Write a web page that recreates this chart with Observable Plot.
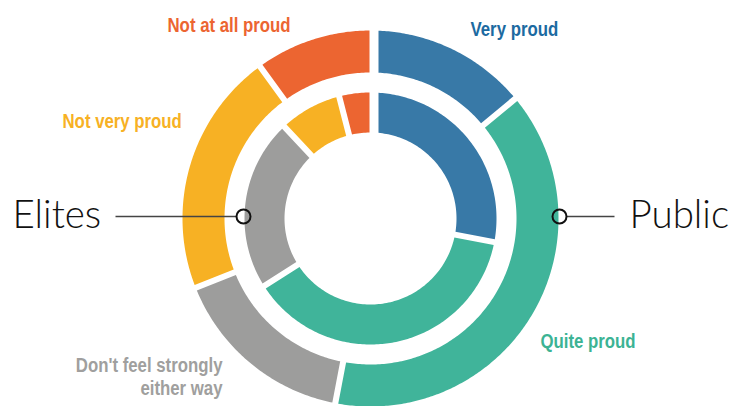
<!DOCTYPE html>
<html><head><meta charset="utf-8">
<script src="https://cdn.jsdelivr.net/npm/d3@7"></script>
<script src="https://cdn.jsdelivr.net/npm/@observablehq/plot@0.6"></script>
<style>body{margin:0;background:#fff;} svg{display:block}</style>
</head><body><div id="chart"></div>
<script>
// ---- data ----
const categories = ["Very proud", "Quite proud", "Don't feel strongly either way", "Not very proud", "Not at all proud"];
const publicValues = [14, 39, 16, 21, 10];
const eliteValues = [28, 38, 22, 8, 4];
const labelTexts = ["Very proud", "Quite proud", "Don't feel strongly\neither way", "Not very proud", "Not at all proud"];
const ringNames = ["Public", "Elites"];

// ---- styles / layout ----
const sliceColors = ["#3879a7", "#40b49a", "#9d9d9c", "#f7b124", "#ec6531"];
const labelColors = ["#1c6aa1", "#3cb394", "#a09f9e", "#f7b124", "#ec6531"];
const W = 733, H = 406, CX = 370, CY = 218;
const ringGeom = [{r0: 146, r1: 188}, {r0: 86, r1: 126}];
const GAP = 3, TOP_START_GAP = 8, TOP_END_GAP = 1;
const SQUEEZE = 0.8;
const labelPos = [
  {x: 100, y: 183, anchor: "start"},
  {x: 170, y: -129, anchor: "start"},
  {x: -148, y: -176, anchor: "end"},
  {x: -308, y: 91, anchor: "start"},
  {x: -203, y: 187, anchor: "start"}
];
const namePos = [
  {x: 259, y: -9, anchor: "start", mx: 189, lx1: 196, lx2: 244},
  {x: -358, y: -9, anchor: "start", mx: -127, lx1: -255, lx2: -134}
];

const rings = [
  {name: ringNames[0], values: publicValues, ...ringGeom[0]},
  {name: ringNames[1], values: eliteValues, ...ringGeom[1]}
];

function slicePoints(ring) {
  const total = d3.sum(ring.values);
  let acc = 0;
  const pts = [];
  ring.values.forEach((v, i) => {
    const a0 = acc / total * 2 * Math.PI; acc += v;
    const a1 = acc / total * 2 * Math.PI;
    const g0 = i === 0 ? TOP_START_GAP : GAP;
    const g1 = i === ring.values.length - 1 ? TOP_END_GAP : GAP;
    const key = ring.name + "-" + categories[i];
    const arc = (r, dir) => {
      const s = a0 + Math.asin(g0 / r), e = a1 - Math.asin(g1 / r);
      const n = Math.max(8, Math.ceil((e - s) * r / 2));
      for (let k = 0; k <= n; k++) {
        const t = dir > 0 ? k / n : 1 - k / n;
        const a = s + (e - s) * t;
        pts.push({key, color: sliceColors[i], x: r * Math.sin(a), y: r * Math.cos(a)});
      }
    };
    arc(ring.r1, 1);
    arc(ring.r0, -1);
  });
  return pts;
}
const slicePts = rings.flatMap(slicePoints);

const labels = labelTexts.map((t, i) => ({text: t, color: labelColors[i], ...labelPos[i]}));
const names = ringNames.map((n, i) => ({text: n, ...namePos[i]}));

const labelFont = "'Liberation Sans', Arial, sans-serif";
const nameFont = "'Segoe UI Light', Lato, 'Open Sans', sans-serif";

const chart = Plot.plot({
  width: W, height: H, margin: 0,
  x: {domain: [-CX, W - CX], axis: null},
  y: {domain: [-(H - CY), CY], axis: null},
  color: {type: "identity"},
  style: {background: "#fff"},
  marks: [
    Plot.line(slicePts, {x: "x", y: "y", z: "key", fill: "color", stroke: "none", curve: "linear"}),
    Plot.link(names, {x1: "lx1", x2: "lx2", y1: 2, y2: 2, stroke: "#444", strokeWidth: 1.3}),
    Plot.dot(names, {x: "mx", y: 2, r: 7, stroke: "#111", strokeWidth: 2, fill: "none"}),
    Plot.text(names, {x: "x", y: "y", text: "text", textAnchor: "start", lineAnchor: "bottom",
      fontSize: 38.5, fontWeight: 300, fontFamily: nameFont, fill: "#111"}),
    Plot.text(labels.filter(d => d.anchor === "start"), {x: "x", y: "y", text: "text", fill: "color",
      textAnchor: "start", lineAnchor: "bottom", fontSize: 21, fontWeight: "bold", fontFamily: labelFont}),
    Plot.text(labels.filter(d => d.anchor === "end"), {x: "x", y: "y", text: "text", fill: "color",
      textAnchor: "end", lineAnchor: "bottom", fontSize: 21, lineHeight: 1.05, fontWeight: "bold", fontFamily: labelFont})
  ]
});
// condense the category labels horizontally (the reference uses a condensed bold face)
d3.select(chart).selectAll("g[font-family*='Liberation'] text").each(function() {
  const t = this.getAttribute("transform") || "";
  this.setAttribute("transform", t + ` scale(${SQUEEZE},1)`);
});
document.getElementById("chart").append(chart);
</script>
</body></html>
